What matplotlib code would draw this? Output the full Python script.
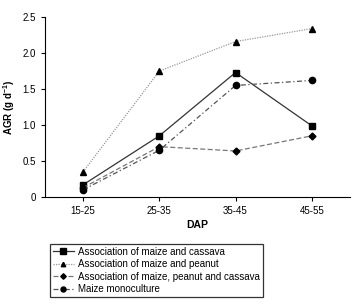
import matplotlib.pyplot as plt
from matplotlib import font_manager

names = {f.name for f in font_manager.fontManager.ttflist}
fam = "Liberation Sans Narrow" if "Liberation Sans Narrow" in names else "Liberation Sans"
plt.rcParams["font.family"] = [fam, "DejaVu Sans"]
plt.rcParams["mathtext.default"] = "regular"

periods = ["15-25", "25-35", "35-45", "45-55"]
maize_cassava = [0.17, 0.85, 1.73, 0.99]
maize_peanut = [0.35, 1.75, 2.16, 2.34]
maize_peanut_cassava = [0.13, 0.70, 0.64, 0.85]
maize_mono = [0.10, 0.65, 1.55, 1.62]

fig = plt.figure(figsize=(3.57, 3.05), dpi=100)
ax = fig.add_axes([0.126, 0.354, 0.854, 0.59])
x = range(len(periods))

ax.plot(x, maize_cassava, color="#333333", ls="-", lw=0.9, marker="s", ms=5,
        mfc="black", mec="black", label="Association of maize and cassava")
ax.plot(x, maize_peanut, color="#999999", ls=(0, (1, 1)), lw=0.9, marker="^", ms=4,
        mfc="black", mec="black", label="Association of maize and peanut")
ax.plot(x, maize_peanut_cassava, color="#777777", ls=(0, (4, 2)), lw=0.9, marker="D", ms=3.5,
        mfc="black", mec="black", label="Association of maize, peanut and cassava")
ax.plot(x, maize_mono, color="#555555", ls=(0, (4, 2, 1, 2)), lw=0.9, marker="o", ms=4.5,
        mfc="black", mec="black", label="Maize monoculture")

ax.set_xlim(-0.5, 3.5)
ax.set_ylim(0, 2.5)
ax.set_xticks(list(x))
ax.set_xticklabels(periods)
ax.set_yticks([0, 0.5, 1.0, 1.5, 2.0, 2.5])
ax.set_yticklabels(["0", "0.5", "1.0", "1.5", "2.0", "2.5"])
ax.tick_params(labelsize=7, length=3, width=0.8)
ax.spines["top"].set_visible(False)
ax.spines["right"].set_visible(False)
ax.set_xlabel("DAP", fontsize=7.5, fontweight="bold", labelpad=3)
ax.set_ylabel("AGR (g d$^{-1}$)", fontsize=7, fontweight="bold", labelpad=4)

handles, labels = ax.get_legend_handles_labels()
leg = fig.legend(handles, labels, loc="lower left", bbox_to_anchor=(0.126, 0.01),
                 fontsize=7, frameon=True, fancybox=False, edgecolor="black",
                 handlelength=2.2, handletextpad=0.4, labelspacing=0.25, borderpad=0.3,
                 markerscale=0.8)
leg.get_frame().set_linewidth(0.9)

fig.savefig("out.png", dpi=100)
